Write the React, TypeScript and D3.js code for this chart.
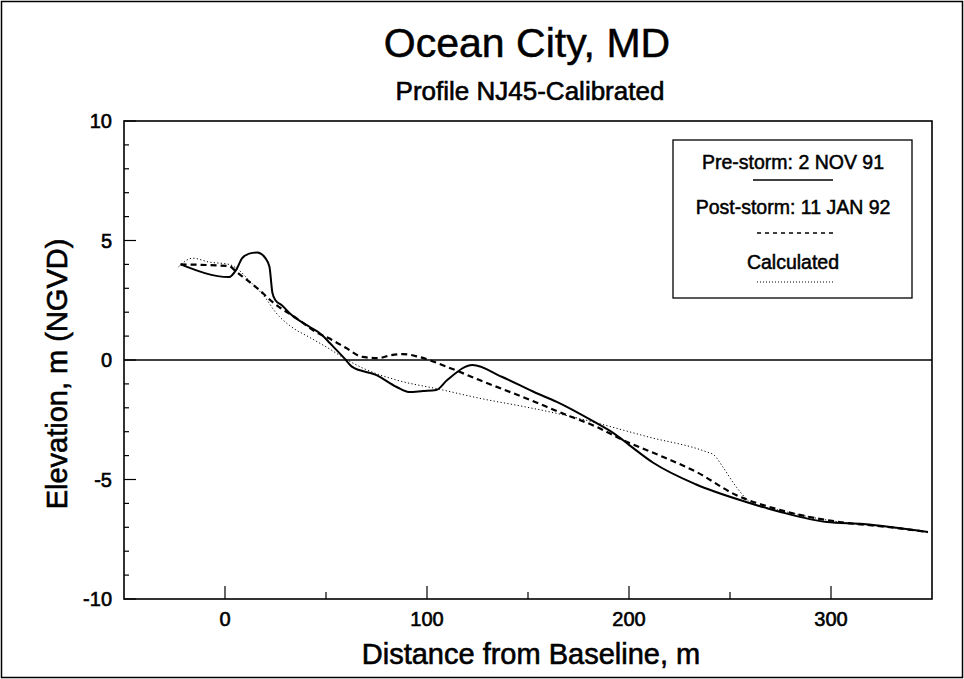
import React from "react";
import * as d3 from "d3";

const preX = [-22, 2, 5.5, 8.5, 12, 16, 20, 22, 23.5, 25, 28, 33, 42, 48, 52, 59, 63, 75, 85, 91, 98, 104.5, 110, 122.5, 137, 154, 164, 182, 193, 200, 212, 233, 258, 275, 298, 316, 348];
const preY = [4.0, 3.47, 3.77, 4.26, 4.45, 4.5, 4.26, 3.9, 2.8, 2.5, 2.3, 1.88, 1.38, 1.05, 0.7, 0.08, -0.29, -0.63, -1.13, -1.34, -1.3, -1.26, -0.84, -0.21, -0.7, -1.38, -1.74, -2.55, -3.1, -3.55, -4.3, -5.2, -5.94, -6.36, -6.78, -6.86, -7.2];

const postX = [-22, 2, 5.5, 17, 23.5, 36.7, 45, 53, 60, 68, 76, 82, 88, 96, 110, 126, 151, 167, 184, 197, 217, 233.5, 253, 275, 308, 324, 348];
const postY = [4.0, 3.93, 3.7, 2.93, 2.43, 1.67, 1.17, 0.84, 0.5, 0.13, 0.08, 0.2, 0.25, 0.13, -0.29, -0.84, -1.67, -2.23, -2.8, -3.35, -4.06, -4.69, -5.65, -6.28, -6.82, -6.95, -7.2];

const calcX = [-23, -16, -8, 2, 5.5, 13.4, 20, 25, 33, 41.6, 52, 58, 68, 85, 106, 126, 151, 175.5, 200, 208.7, 238.5, 242, 246.5, 253, 261, 275, 308, 324, 348];
const calcY = [3.9, 4.26, 4.1, 4.0, 3.85, 3.2, 2.6, 2.0, 1.38, 0.96, 0.45, 0.13, -0.33, -0.84, -1.22, -1.6, -2.0, -2.45, -3.0, -3.2, -3.85, -3.97, -4.48, -5.3, -6.0, -6.3, -6.82, -6.95, -7.2];

const xTicks = [0, 50, 100, 150, 200, 250, 300];
const xTickLabels = ["0", "100", "200", "300"];
const yTicks = d3.range(-10, 11, 1);
const yTickLabels = ["-10", "-5", "0", "5", "10"];

const legendLabels = ["Pre-storm: 2 NOV 91", "Post-storm: 11 JAN 92", "Calculated"];

const W = 964;
const H = 679;
const FONT = "'Liberation Sans', Arial, Helvetica, sans-serif";
const med = { fill: "#000", stroke: "#000", strokeWidth: 0.6 };

export default function App() {
  const x = d3.scaleLinear().domain([-50, 350]).range([124, 932]);
  const y = d3.scaleLinear().domain([-10, 10]).range([599, 121]);

  const line = d3
    .line<[number, number]>()
    .x((d) => x(d[0]))
    .y((d) => y(d[1]))
    .curve(d3.curveMonotoneX);

  const zip = (a: number[], b: number[]) => a.map((v, i) => [v, b[i]] as [number, number]);

  const legendX1 = 753;
  const legendX2 = 833;
  const legendCX = 793;

  return (
    <svg
      width={W}
      height={H}
      style={{ position: "absolute", left: 0, top: 0, background: "#fff" }}
      fontFamily={FONT}
    >
      <rect x={0} y={0} width={W} height={H} fill="#fff" />
      <rect x={1.5} y={1.5} width={W - 3} height={H - 3} fill="none" stroke="#000" strokeWidth={1.5} />

      <text x={527} y={57} textAnchor="middle" fontSize={41} {...med} strokeWidth={0.5}>
        Ocean City, MD
      </text>
      <text x={530} y={100} textAnchor="middle" fontSize={26} {...med}>
        Profile NJ45-Calibrated
      </text>

      {/* plot frame */}
      <rect x={x(-50)} y={y(10)} width={x(350) - x(-50)} height={y(-10) - y(10)} fill="none" stroke="#000" strokeWidth={1.6} />

      {/* zero line */}
      <line x1={x(-50)} x2={x(350)} y1={y(0)} y2={y(0)} stroke="#000" strokeWidth={1.3} />

      {/* y ticks */}
      {yTicks.map((t) => (
        <line
          key={"yt" + t}
          x1={x(-50)}
          x2={x(-50) + (t % 5 === 0 ? 12 : 5)}
          y1={y(t)}
          y2={y(t)}
          stroke="#000"
          strokeWidth={1.2}
        />
      ))}
      {yTickLabels.map((t) => (
        <text key={"yl" + t} x={112} y={y(+t)} dy="0.36em" textAnchor="end" fontSize={20} {...med}>
          {t}
        </text>
      ))}

      {/* x ticks */}
      {xTicks.map((t) => (
        <line
          key={"xt" + t}
          x1={x(t)}
          x2={x(t)}
          y1={y(-10)}
          y2={y(-10) - (t % 100 === 0 ? 13 : 7)}
          stroke="#000"
          strokeWidth={1.2}
        />
      ))}
      {xTickLabels.map((t) => (
        <text key={"xl" + t} x={x(+t)} y={626} textAnchor="middle" fontSize={20} {...med}>
          {t}
        </text>
      ))}

      <text x={531} y={664} textAnchor="middle" fontSize={29} {...med}>
        Distance from Baseline, m
      </text>
      <text
        transform={`translate(67,374) rotate(-90)`}
        textAnchor="middle"
        fontSize={29}
        {...med}
      >
        Elevation, m (NGVD)
      </text>

      {/* data */}
      <path d={line(zip(calcX, calcY)) || ""} fill="none" stroke="#000" strokeWidth={1} strokeDasharray="1.2,2.3" />
      <path d={line(zip(postX, postY)) || ""} fill="none" stroke="#000" strokeWidth={2.2} strokeDasharray="6,4" />
      <path d={line(zip(preX, preY)) || ""} fill="none" stroke="#000" strokeWidth={2} />

      {/* legend */}
      <rect x={673} y={140} width={239} height={158} fill="#fff" stroke="#000" strokeWidth={1.3} />
      <text x={legendCX} y={169} textAnchor="middle" fontSize={19.5} {...med} strokeWidth={0.5}>
        {legendLabels[0]}
      </text>
      <line x1={legendX1} x2={legendX2} y1={180} y2={180} stroke="#000" strokeWidth={1.6} />
      <text x={legendCX} y={214} textAnchor="middle" fontSize={19.5} {...med} strokeWidth={0.5}>
        {legendLabels[1]}
      </text>
      <line x1={legendX1 + 4} x2={legendX2} y1={233} y2={233} stroke="#000" strokeWidth={1.6} strokeDasharray="4,4" />
      <text x={legendCX} y={269} textAnchor="middle" fontSize={19.5} {...med} strokeWidth={0.5}>
        {legendLabels[2]}
      </text>
      <line x1={legendX1 + 4} x2={legendX2} y1={282} y2={282} stroke="#000" strokeWidth={1} strokeDasharray="1,2" />
    </svg>
  );
}
